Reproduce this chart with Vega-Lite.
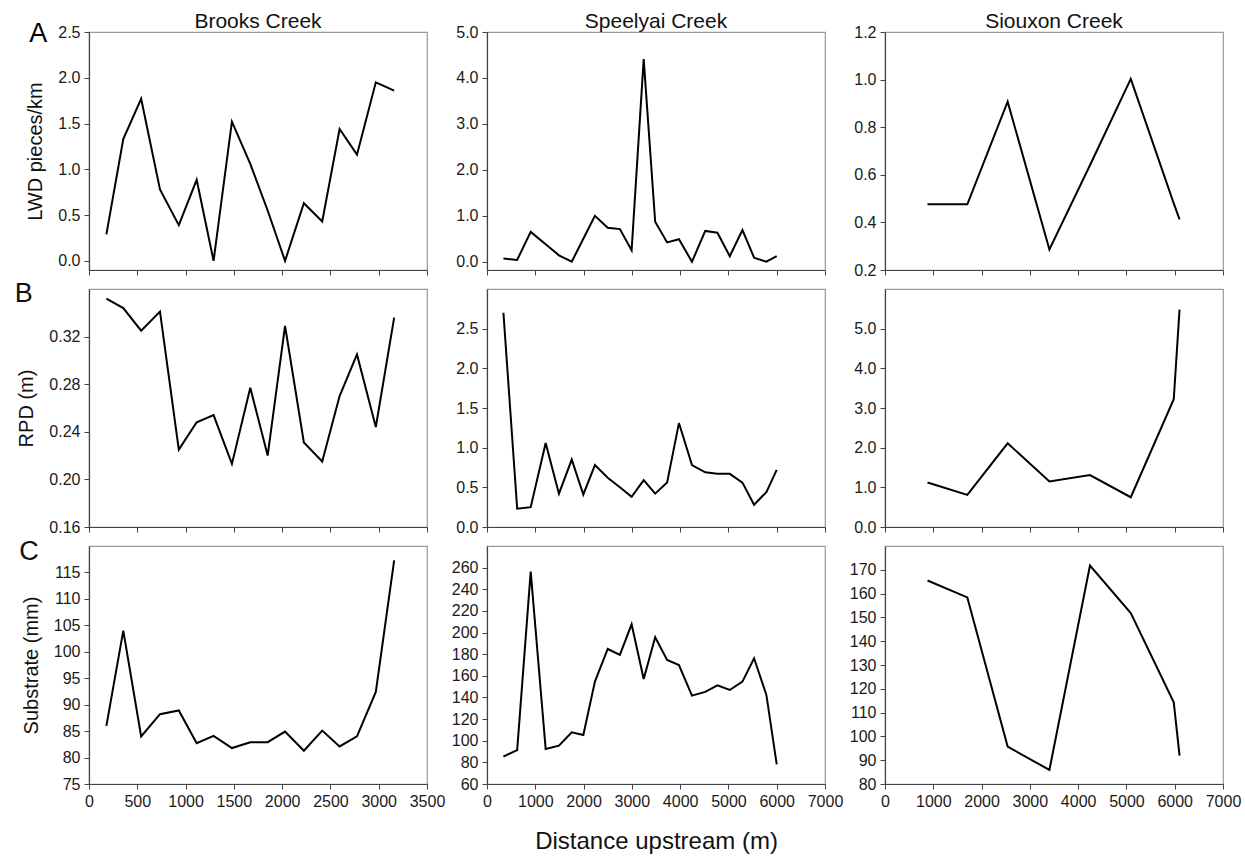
{
  "$schema": "https://vega.github.io/schema/vega-lite/v6.json",
  "background": "white",
  "padding": {"left": 14, "top": 10, "right": 5, "bottom": 5},
  "title": {"text": "A", "anchor": "start", "frame": "bounds", "fontSize": 27, "font": "Liberation Sans", "fontWeight": "normal", "color": "black", "offset": -38, "dx": 15},
  "datasets": {
    "all": [
      {"creek": "Brooks", "metric": "LWD", "dist": 180, "value": 0.29},
      {"creek": "Brooks", "metric": "LWD", "dist": 355, "value": 1.33},
      {"creek": "Brooks", "metric": "LWD", "dist": 540, "value": 1.77},
      {"creek": "Brooks", "metric": "LWD", "dist": 735, "value": 0.78},
      {"creek": "Brooks", "metric": "LWD", "dist": 930, "value": 0.39},
      {"creek": "Brooks", "metric": "LWD", "dist": 1115, "value": 0.885},
      {"creek": "Brooks", "metric": "LWD", "dist": 1290, "value": 0.0},
      {"creek": "Brooks", "metric": "LWD", "dist": 1480, "value": 1.52},
      {"creek": "Brooks", "metric": "LWD", "dist": 1670, "value": 1.06},
      {"creek": "Brooks", "metric": "LWD", "dist": 1850, "value": 0.55},
      {"creek": "Brooks", "metric": "LWD", "dist": 2030, "value": 0.0},
      {"creek": "Brooks", "metric": "LWD", "dist": 2225, "value": 0.63},
      {"creek": "Brooks", "metric": "LWD", "dist": 2415, "value": 0.43},
      {"creek": "Brooks", "metric": "LWD", "dist": 2595, "value": 1.44},
      {"creek": "Brooks", "metric": "LWD", "dist": 2775, "value": 1.16},
      {"creek": "Brooks", "metric": "LWD", "dist": 2970, "value": 1.95},
      {"creek": "Brooks", "metric": "LWD", "dist": 3160, "value": 1.86},
      {"creek": "Brooks", "metric": "RPD", "dist": 180, "value": 0.352},
      {"creek": "Brooks", "metric": "RPD", "dist": 355, "value": 0.344},
      {"creek": "Brooks", "metric": "RPD", "dist": 540, "value": 0.325},
      {"creek": "Brooks", "metric": "RPD", "dist": 735, "value": 0.341},
      {"creek": "Brooks", "metric": "RPD", "dist": 930, "value": 0.225},
      {"creek": "Brooks", "metric": "RPD", "dist": 1115, "value": 0.248},
      {"creek": "Brooks", "metric": "RPD", "dist": 1290, "value": 0.254},
      {"creek": "Brooks", "metric": "RPD", "dist": 1480, "value": 0.213},
      {"creek": "Brooks", "metric": "RPD", "dist": 1670, "value": 0.277},
      {"creek": "Brooks", "metric": "RPD", "dist": 1850, "value": 0.220},
      {"creek": "Brooks", "metric": "RPD", "dist": 2030, "value": 0.329},
      {"creek": "Brooks", "metric": "RPD", "dist": 2225, "value": 0.231},
      {"creek": "Brooks", "metric": "RPD", "dist": 2415, "value": 0.215},
      {"creek": "Brooks", "metric": "RPD", "dist": 2595, "value": 0.270},
      {"creek": "Brooks", "metric": "RPD", "dist": 2775, "value": 0.305},
      {"creek": "Brooks", "metric": "RPD", "dist": 2970, "value": 0.244},
      {"creek": "Brooks", "metric": "RPD", "dist": 3160, "value": 0.336},
      {"creek": "Brooks", "metric": "Sub", "dist": 180, "value": 86.0},
      {"creek": "Brooks", "metric": "Sub", "dist": 355, "value": 104.0},
      {"creek": "Brooks", "metric": "Sub", "dist": 540, "value": 84.0},
      {"creek": "Brooks", "metric": "Sub", "dist": 735, "value": 88.2},
      {"creek": "Brooks", "metric": "Sub", "dist": 930, "value": 88.9},
      {"creek": "Brooks", "metric": "Sub", "dist": 1115, "value": 82.7},
      {"creek": "Brooks", "metric": "Sub", "dist": 1290, "value": 84.1},
      {"creek": "Brooks", "metric": "Sub", "dist": 1480, "value": 81.8},
      {"creek": "Brooks", "metric": "Sub", "dist": 1670, "value": 82.9},
      {"creek": "Brooks", "metric": "Sub", "dist": 1850, "value": 82.9},
      {"creek": "Brooks", "metric": "Sub", "dist": 2030, "value": 84.9},
      {"creek": "Brooks", "metric": "Sub", "dist": 2225, "value": 81.3},
      {"creek": "Brooks", "metric": "Sub", "dist": 2415, "value": 85.1},
      {"creek": "Brooks", "metric": "Sub", "dist": 2595, "value": 82.1},
      {"creek": "Brooks", "metric": "Sub", "dist": 2775, "value": 84.0},
      {"creek": "Brooks", "metric": "Sub", "dist": 2970, "value": 92.4},
      {"creek": "Brooks", "metric": "Sub", "dist": 3160, "value": 117.3},
      {"creek": "Speelyai", "metric": "LWD", "dist": 340, "value": 0.07},
      {"creek": "Speelyai", "metric": "LWD", "dist": 625, "value": 0.04},
      {"creek": "Speelyai", "metric": "LWD", "dist": 905, "value": 0.65},
      {"creek": "Speelyai", "metric": "LWD", "dist": 1215, "value": 0.38},
      {"creek": "Speelyai", "metric": "LWD", "dist": 1490, "value": 0.14},
      {"creek": "Speelyai", "metric": "LWD", "dist": 1755, "value": 0.0},
      {"creek": "Speelyai", "metric": "LWD", "dist": 1995, "value": 0.5},
      {"creek": "Speelyai", "metric": "LWD", "dist": 2235, "value": 1.0},
      {"creek": "Speelyai", "metric": "LWD", "dist": 2500, "value": 0.74},
      {"creek": "Speelyai", "metric": "LWD", "dist": 2752, "value": 0.71},
      {"creek": "Speelyai", "metric": "LWD", "dist": 2995, "value": 0.25},
      {"creek": "Speelyai", "metric": "LWD", "dist": 3245, "value": 4.41},
      {"creek": "Speelyai", "metric": "LWD", "dist": 3483, "value": 0.87},
      {"creek": "Speelyai", "metric": "LWD", "dist": 3730, "value": 0.42},
      {"creek": "Speelyai", "metric": "LWD", "dist": 3975, "value": 0.49},
      {"creek": "Speelyai", "metric": "LWD", "dist": 4245, "value": 0.0},
      {"creek": "Speelyai", "metric": "LWD", "dist": 4520, "value": 0.67},
      {"creek": "Speelyai", "metric": "LWD", "dist": 4772, "value": 0.63},
      {"creek": "Speelyai", "metric": "LWD", "dist": 5028, "value": 0.12},
      {"creek": "Speelyai", "metric": "LWD", "dist": 5290, "value": 0.69},
      {"creek": "Speelyai", "metric": "LWD", "dist": 5531, "value": 0.09},
      {"creek": "Speelyai", "metric": "LWD", "dist": 5786, "value": 0.0},
      {"creek": "Speelyai", "metric": "LWD", "dist": 6000, "value": 0.12},
      {"creek": "Speelyai", "metric": "RPD", "dist": 340, "value": 2.70},
      {"creek": "Speelyai", "metric": "RPD", "dist": 625, "value": 0.23},
      {"creek": "Speelyai", "metric": "RPD", "dist": 905, "value": 0.25},
      {"creek": "Speelyai", "metric": "RPD", "dist": 1215, "value": 1.06},
      {"creek": "Speelyai", "metric": "RPD", "dist": 1490, "value": 0.42},
      {"creek": "Speelyai", "metric": "RPD", "dist": 1755, "value": 0.85},
      {"creek": "Speelyai", "metric": "RPD", "dist": 1995, "value": 0.41},
      {"creek": "Speelyai", "metric": "RPD", "dist": 2235, "value": 0.78},
      {"creek": "Speelyai", "metric": "RPD", "dist": 2500, "value": 0.62},
      {"creek": "Speelyai", "metric": "RPD", "dist": 2752, "value": 0.50},
      {"creek": "Speelyai", "metric": "RPD", "dist": 2995, "value": 0.38},
      {"creek": "Speelyai", "metric": "RPD", "dist": 3245, "value": 0.59},
      {"creek": "Speelyai", "metric": "RPD", "dist": 3483, "value": 0.42},
      {"creek": "Speelyai", "metric": "RPD", "dist": 3730, "value": 0.56},
      {"creek": "Speelyai", "metric": "RPD", "dist": 3975, "value": 1.31},
      {"creek": "Speelyai", "metric": "RPD", "dist": 4245, "value": 0.78},
      {"creek": "Speelyai", "metric": "RPD", "dist": 4520, "value": 0.69},
      {"creek": "Speelyai", "metric": "RPD", "dist": 4772, "value": 0.67},
      {"creek": "Speelyai", "metric": "RPD", "dist": 5028, "value": 0.67},
      {"creek": "Speelyai", "metric": "RPD", "dist": 5290, "value": 0.56},
      {"creek": "Speelyai", "metric": "RPD", "dist": 5531, "value": 0.28},
      {"creek": "Speelyai", "metric": "RPD", "dist": 5786, "value": 0.44},
      {"creek": "Speelyai", "metric": "RPD", "dist": 6000, "value": 0.72},
      {"creek": "Speelyai", "metric": "Sub", "dist": 340, "value": 85.3},
      {"creek": "Speelyai", "metric": "Sub", "dist": 625, "value": 91.4},
      {"creek": "Speelyai", "metric": "Sub", "dist": 905, "value": 256.3},
      {"creek": "Speelyai", "metric": "Sub", "dist": 1215, "value": 92.4},
      {"creek": "Speelyai", "metric": "Sub", "dist": 1490, "value": 95.4},
      {"creek": "Speelyai", "metric": "Sub", "dist": 1755, "value": 107.8},
      {"creek": "Speelyai", "metric": "Sub", "dist": 1995, "value": 105.3},
      {"creek": "Speelyai", "metric": "Sub", "dist": 2235, "value": 154.6},
      {"creek": "Speelyai", "metric": "Sub", "dist": 2500, "value": 184.8},
      {"creek": "Speelyai", "metric": "Sub", "dist": 2752, "value": 179.3},
      {"creek": "Speelyai", "metric": "Sub", "dist": 2995, "value": 207.6},
      {"creek": "Speelyai", "metric": "Sub", "dist": 3245, "value": 157.1},
      {"creek": "Speelyai", "metric": "Sub", "dist": 3483, "value": 195.6},
      {"creek": "Speelyai", "metric": "Sub", "dist": 3730, "value": 174.6},
      {"creek": "Speelyai", "metric": "Sub", "dist": 3975, "value": 170.0},
      {"creek": "Speelyai", "metric": "Sub", "dist": 4245, "value": 141.7},
      {"creek": "Speelyai", "metric": "Sub", "dist": 4520, "value": 145.1},
      {"creek": "Speelyai", "metric": "Sub", "dist": 4772, "value": 151.2},
      {"creek": "Speelyai", "metric": "Sub", "dist": 5028, "value": 146.9},
      {"creek": "Speelyai", "metric": "Sub", "dist": 5290, "value": 154.6},
      {"creek": "Speelyai", "metric": "Sub", "dist": 5531, "value": 176.2},
      {"creek": "Speelyai", "metric": "Sub", "dist": 5786, "value": 142.3},
      {"creek": "Speelyai", "metric": "Sub", "dist": 6000, "value": 78.2},
      {"creek": "Siouxon", "metric": "LWD", "dist": 880, "value": 0.476},
      {"creek": "Siouxon", "metric": "LWD", "dist": 1705, "value": 0.476},
      {"creek": "Siouxon", "metric": "LWD", "dist": 2540, "value": 0.907},
      {"creek": "Siouxon", "metric": "LWD", "dist": 3405, "value": 0.286},
      {"creek": "Siouxon", "metric": "LWD", "dist": 4245, "value": 0.64},
      {"creek": "Siouxon", "metric": "LWD", "dist": 5090, "value": 1.003},
      {"creek": "Siouxon", "metric": "LWD", "dist": 5980, "value": 0.48},
      {"creek": "Siouxon", "metric": "LWD", "dist": 6100, "value": 0.413},
      {"creek": "Siouxon", "metric": "RPD", "dist": 880, "value": 1.12},
      {"creek": "Siouxon", "metric": "RPD", "dist": 1705, "value": 0.81},
      {"creek": "Siouxon", "metric": "RPD", "dist": 2540, "value": 2.11},
      {"creek": "Siouxon", "metric": "RPD", "dist": 3405, "value": 1.15},
      {"creek": "Siouxon", "metric": "RPD", "dist": 4245, "value": 1.31},
      {"creek": "Siouxon", "metric": "RPD", "dist": 5090, "value": 0.75},
      {"creek": "Siouxon", "metric": "RPD", "dist": 5980, "value": 3.22},
      {"creek": "Siouxon", "metric": "RPD", "dist": 6100, "value": 5.48},
      {"creek": "Siouxon", "metric": "Sub", "dist": 880, "value": 165.5},
      {"creek": "Siouxon", "metric": "Sub", "dist": 1705, "value": 158.4},
      {"creek": "Siouxon", "metric": "Sub", "dist": 2540, "value": 95.7},
      {"creek": "Siouxon", "metric": "Sub", "dist": 3405, "value": 85.9},
      {"creek": "Siouxon", "metric": "Sub", "dist": 4245, "value": 171.8},
      {"creek": "Siouxon", "metric": "Sub", "dist": 5090, "value": 151.8},
      {"creek": "Siouxon", "metric": "Sub", "dist": 5980, "value": 114.3},
      {"creek": "Siouxon", "metric": "Sub", "dist": 6100, "value": 91.9}
    ]
  },
  "data": {"name": "all"},
  "columns": 3,
  "bounds": "flush",
  "spacing": {"row": 19, "column": 60},
  "concat": [
    {
      "width": 338, "height": 238,
      "title": {"text": "Brooks Creek"},
      "transform": [{"filter": "datum.creek === 'Brooks' && datum.metric === 'LWD'"}],
      "mark": {"type": "line", "color": "black", "strokeWidth": 2},
      "encoding": {
        "x": {"field": "dist", "type": "quantitative", "scale": {"domain": [0, 3500], "nice": false}, "axis": {"values": [0, 500, 1000, 1500, 2000, 2500, 3000, 3500], "labels": false, "title": null}},
        "y": {"field": "value", "type": "quantitative", "scale": {"domain": [-0.1, 2.5], "nice": false, "zero": false}, "axis": {"values": [0, 0.5, 1, 1.5, 2, 2.5], "format": ".1f", "title": "LWD pieces/km"}}
      }
    },
    {
      "width": 338, "height": 238,
      "title": {"text": "Speelyai Creek"},
      "transform": [{"filter": "datum.creek === 'Speelyai' && datum.metric === 'LWD'"}],
      "mark": {"type": "line", "color": "black", "strokeWidth": 2},
      "encoding": {
        "x": {"field": "dist", "type": "quantitative", "scale": {"domain": [0, 7000], "nice": false}, "axis": {"values": [0, 1000, 2000, 3000, 4000, 5000, 6000, 7000], "labels": false, "title": null}},
        "y": {"field": "value", "type": "quantitative", "scale": {"domain": [-0.18, 5], "nice": false, "zero": false}, "axis": {"values": [0, 1, 2, 3, 4, 5], "format": ".1f", "title": null}}
      }
    },
    {
      "width": 338, "height": 238,
      "title": {"text": "Siouxon Creek"},
      "transform": [{"filter": "datum.creek === 'Siouxon' && datum.metric === 'LWD'"}],
      "mark": {"type": "line", "color": "black", "strokeWidth": 2},
      "encoding": {
        "x": {"field": "dist", "type": "quantitative", "scale": {"domain": [0, 7000], "nice": false}, "axis": {"values": [0, 1000, 2000, 3000, 4000, 5000, 6000, 7000], "labels": false, "title": null}},
        "y": {"field": "value", "type": "quantitative", "scale": {"domain": [0.2, 1.2], "nice": false, "zero": false}, "axis": {"values": [0.2, 0.4, 0.6, 0.8, 1.0, 1.2], "format": ".1f", "title": null}}
      }
    },
    {
      "width": 338, "height": 238,
      "title": {"text": "B", "anchor": "start", "frame": "bounds", "fontSize": 27, "offset": -19, "dx": -2},
      "transform": [{"filter": "datum.creek === 'Brooks' && datum.metric === 'RPD'"}],
      "mark": {"type": "line", "color": "black", "strokeWidth": 2},
      "encoding": {
        "x": {"field": "dist", "type": "quantitative", "scale": {"domain": [0, 3500], "nice": false}, "axis": {"values": [0, 500, 1000, 1500, 2000, 2500, 3000, 3500], "labels": false, "title": null}},
        "y": {"field": "value", "type": "quantitative", "scale": {"domain": [0.16, 0.36], "nice": false, "zero": false}, "axis": {"values": [0.16, 0.2, 0.24, 0.28, 0.32], "format": ".2f", "title": "RPD (m)"}}
      }
    },
    {
      "width": 338, "height": 238,
      "transform": [{"filter": "datum.creek === 'Speelyai' && datum.metric === 'RPD'"}],
      "mark": {"type": "line", "color": "black", "strokeWidth": 2},
      "encoding": {
        "x": {"field": "dist", "type": "quantitative", "scale": {"domain": [0, 7000], "nice": false}, "axis": {"values": [0, 1000, 2000, 3000, 4000, 5000, 6000, 7000], "labels": false, "title": null}},
        "y": {"field": "value", "type": "quantitative", "scale": {"domain": [0, 3], "nice": false, "zero": false}, "axis": {"values": [0, 0.5, 1, 1.5, 2, 2.5], "format": ".1f", "title": null}}
      }
    },
    {
      "width": 338, "height": 238,
      "transform": [{"filter": "datum.creek === 'Siouxon' && datum.metric === 'RPD'"}],
      "mark": {"type": "line", "color": "black", "strokeWidth": 2},
      "encoding": {
        "x": {"field": "dist", "type": "quantitative", "scale": {"domain": [0, 7000], "nice": false}, "axis": {"values": [0, 1000, 2000, 3000, 4000, 5000, 6000, 7000], "labels": false, "title": null}},
        "y": {"field": "value", "type": "quantitative", "scale": {"domain": [0, 6], "nice": false, "zero": false}, "axis": {"values": [0, 1, 2, 3, 4, 5], "format": ".1f", "title": null}}
      }
    },
    {
      "width": 338, "height": 238,
      "title": {"text": "C", "anchor": "start", "frame": "bounds", "fontSize": 27, "offset": -20, "dx": -2},
      "transform": [{"filter": "datum.creek === 'Brooks' && datum.metric === 'Sub'"}],
      "mark": {"type": "line", "color": "black", "strokeWidth": 2},
      "encoding": {
        "x": {"field": "dist", "type": "quantitative", "scale": {"domain": [0, 3500], "nice": false}, "axis": {"values": [0, 500, 1000, 1500, 2000, 2500, 3000, 3500], "format": "d", "title": null}},
        "y": {"field": "value", "type": "quantitative", "scale": {"domain": [75, 120], "nice": false, "zero": false}, "axis": {"values": [75, 80, 85, 90, 95, 100, 105, 110, 115], "format": "d", "title": "Substrate (mm)"}}
      }
    },
    {
      "width": 338, "height": 238,
      "transform": [{"filter": "datum.creek === 'Speelyai' && datum.metric === 'Sub'"}],
      "mark": {"type": "line", "color": "black", "strokeWidth": 2},
      "encoding": {
        "x": {"field": "dist", "type": "quantitative", "scale": {"domain": [0, 7000], "nice": false}, "axis": {"values": [0, 1000, 2000, 3000, 4000, 5000, 6000, 7000], "format": "d", "title": "Distance upstream (m)", "titleFontSize": 24, "titlePadding": 20}},
        "y": {"field": "value", "type": "quantitative", "scale": {"domain": [60, 280], "nice": false, "zero": false}, "axis": {"values": [60, 80, 100, 120, 140, 160, 180, 200, 220, 240, 260], "format": "d", "title": null}}
      }
    },
    {
      "width": 338, "height": 238,
      "transform": [{"filter": "datum.creek === 'Siouxon' && datum.metric === 'Sub'"}],
      "mark": {"type": "line", "color": "black", "strokeWidth": 2},
      "encoding": {
        "x": {"field": "dist", "type": "quantitative", "scale": {"domain": [0, 7000], "nice": false}, "axis": {"values": [0, 1000, 2000, 3000, 4000, 5000, 6000, 7000], "format": "d", "title": null}},
        "y": {"field": "value", "type": "quantitative", "scale": {"domain": [80, 180], "nice": false, "zero": false}, "axis": {"values": [80, 90, 100, 110, 120, 130, 140, 150, 160, 170], "format": "d", "title": null}}
      }
    }
  ],
  "config": {
    "font": "Liberation Sans",
    "view": {"stroke": "#9a9a9a", "strokeWidth": 1.2},
    "axis": {
      "grid": false,
      "domainColor": "#444",
      "domainWidth": 1.2,
      "tickColor": "#444",
      "tickSize": 5,
      "tickWidth": 1,
      "labelFont": "Liberation Sans",
      "labelFontSize": 16,
      "labelColor": "#1a1a1a",
      "labelPadding": 4,
      "labelOverlap": false,
      "labelFlush": false,
      "titleFont": "Liberation Sans",
      "titleFontSize": 20,
      "titleFontWeight": "normal",
      "titleColor": "#111",
      "titlePadding": 12
    },
    "title": {"font": "Liberation Sans", "fontSize": 21, "fontWeight": "normal", "color": "#111", "offset": -8}
  }
}
